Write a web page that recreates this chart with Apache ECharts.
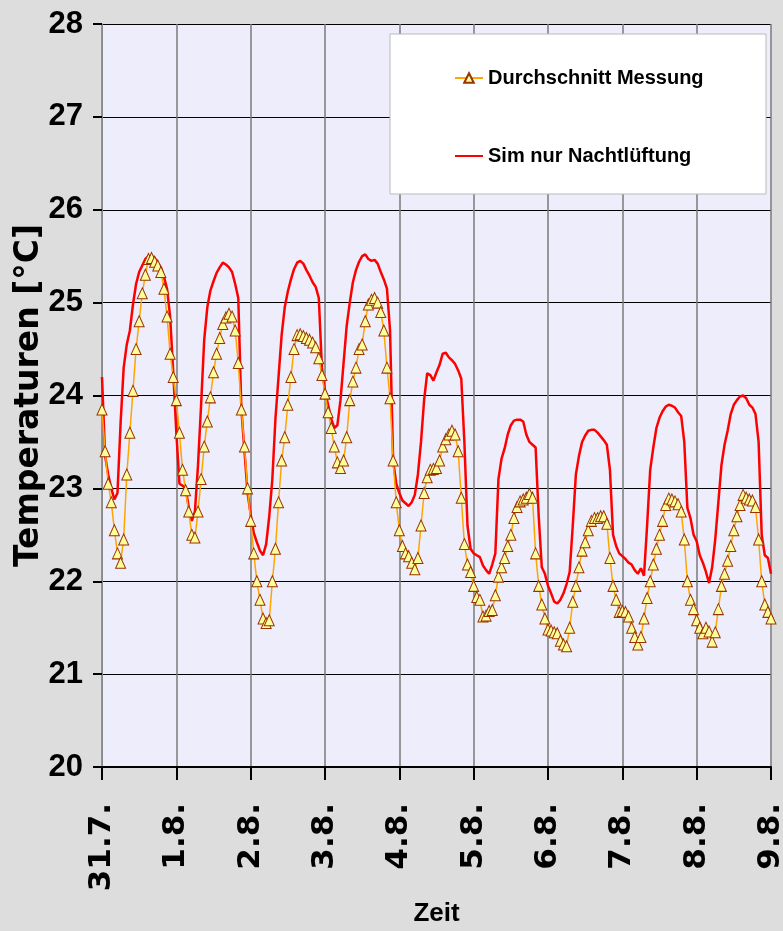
<!DOCTYPE html>
<html>
<head>
<meta charset="utf-8">
<script src="https://cdn.jsdelivr.net/npm/echarts@6/dist/echarts.min.js"></script>
<style>
  html, body { margin: 0; padding: 0; background: #dddddd; }
  #chart { width: 783px; height: 931px; }
</style>
</head>
<body>
<div id="chart"></div>
<script>
// Tageslabels (alle 24 h)
var dayLabels = ['31.7.', '1.8.', '2.8.', '3.8.', '4.8.', '5.8.', '6.8.', '7.8.', '8.8.', '9.8.'];
var yTicks = [20, 21, 22, 23, 24, 25, 26, 27, 28];

// Durchschnitt Messung, stuendlich ab 31.7. 0:00
var messung = [
  23.85, 23.4, 23.05, 22.85, 22.55, 22.3, 22.2, 22.45, 23.15, 23.6, 24.05, 24.5, 24.8, 25.1, 25.3, 25.47, 25.48, 25.44, 25.4, 25.33, 25.15, 24.85, 24.45, 24.2,
  23.95, 23.6, 23.2, 22.98, 22.75, 22.5, 22.47, 22.75, 23.1, 23.45, 23.72, 23.98, 24.25, 24.45, 24.62, 24.77, 24.84, 24.88, 24.85, 24.7, 24.35, 23.85, 23.45, 23.0,
  22.65, 22.3, 22.0, 21.8, 21.6, 21.55, 21.58, 22.0, 22.35, 22.85, 23.3, 23.55, 23.9, 24.2, 24.5, 24.65, 24.66, 24.64, 24.62, 24.6, 24.57, 24.52, 24.4, 24.22,
  24.02, 23.82, 23.65, 23.45, 23.28, 23.22, 23.3, 23.55, 23.95, 24.15, 24.3, 24.5, 24.55, 24.8, 24.98, 25.03, 25.05, 25.0, 24.9, 24.7, 24.3, 23.97, 23.3, 22.85,
  22.55, 22.38, 22.3, 22.27, 22.2, 22.13, 22.25, 22.6, 22.95, 23.12, 23.2, 23.21, 23.22, 23.3, 23.45, 23.53, 23.58, 23.62, 23.58, 23.4, 22.9, 22.4, 22.18, 22.1,
  21.95, 21.83, 21.8, 21.62, 21.63, 21.68, 21.69, 21.85, 22.05, 22.15, 22.25, 22.38, 22.5, 22.68, 22.8, 22.86, 22.88, 22.9, 22.94, 22.9, 22.3, 21.95, 21.75, 21.6,
  21.48, 21.47, 21.45, 21.44, 21.36, 21.32, 21.3, 21.5, 21.78, 21.95, 22.15, 22.33, 22.42, 22.55, 22.65, 22.68, 22.68, 22.7, 22.7, 22.62, 22.25, 21.95, 21.8, 21.67,
  21.68, 21.67, 21.62, 21.5, 21.4, 21.32, 21.4, 21.6, 21.82, 22.0, 22.18, 22.35, 22.5, 22.65, 22.82, 22.89, 22.88, 22.86, 22.83, 22.75, 22.45, 22.0, 21.8, 21.7,
  21.58, 21.5, 21.44, 21.5, 21.46, 21.35, 21.45, 21.7, 21.95, 22.08, 22.22, 22.38, 22.55, 22.7, 22.82, 22.93, 22.9, 22.88, 22.87, 22.8, 22.45, 22.0, 21.75, 21.67,
  21.6
];

// Sim nur Nachtlueftung, stuendlich
var simNacht = [
  24.2, 23.35, 23.15, 23.0, 22.88, 22.95, 23.7, 24.3, 24.55, 24.7, 24.98, 25.2, 25.33, 25.4, 25.47, 25.5, 25.5, 25.48, 25.43, 25.38, 25.28, 25.15, 24.85, 24.25,
  23.6, 23.05, 23.03, 23.0, 22.8, 22.65, 22.75, 23.25, 23.9, 24.6, 24.95, 25.13, 25.23, 25.32, 25.38, 25.43, 25.41, 25.38, 25.33, 25.2, 25.05, 23.85, 23.4, 22.95,
  22.72, 22.52, 22.42, 22.33, 22.28, 22.4, 22.7, 23.1, 23.75, 24.2, 24.65, 24.95, 25.12, 25.25, 25.36, 25.43, 25.45, 25.42, 25.35, 25.29, 25.22, 25.17, 25.05, 24.3,
  24.05, 23.9, 23.75, 23.65, 23.68, 23.95, 24.35, 24.75, 25.0, 25.22, 25.35, 25.44, 25.5, 25.52, 25.47, 25.45, 25.46, 25.42, 25.33, 25.25, 25.15, 24.7, 23.3, 23.05,
  22.95, 22.87, 22.84, 22.81, 22.85, 22.93, 23.15, 23.5, 23.95, 24.24, 24.22, 24.16, 24.25, 24.33, 24.45, 24.46, 24.41, 24.38, 24.34, 24.27, 24.18, 23.5, 22.6, 22.35,
  22.3, 22.28, 22.26, 22.17, 22.12, 22.08, 22.18, 22.3, 23.1, 23.32, 23.43, 23.58, 23.68, 23.73, 23.74, 23.74, 23.72, 23.58, 23.5, 23.47, 23.44, 22.7, 22.15, 22.08,
  21.95, 21.87, 21.78, 21.76, 21.8, 21.87, 21.97, 22.1, 22.6, 23.15, 23.35, 23.5, 23.57, 23.62, 23.63, 23.63, 23.6, 23.56, 23.52, 23.47, 23.2, 22.5, 22.38, 22.3,
  22.27, 22.24, 22.2, 22.18, 22.12, 22.08, 22.14, 22.06, 22.6, 23.2, 23.44, 23.65, 23.76, 23.83, 23.88, 23.9, 23.89, 23.87, 23.82, 23.78, 23.5, 22.79, 22.68, 22.5,
  22.43, 22.28, 22.2, 22.1, 21.98, 22.15, 22.45, 22.85, 23.25, 23.47, 23.62, 23.8, 23.9, 23.95, 23.99, 24.0, 23.97, 23.9, 23.87, 23.8, 23.5, 22.5, 22.28, 22.25,
  22.08
];

var chart = echarts.init(document.getElementById('chart'));

function toPoints(arr) {
  return arr.map(function (v, i) { return [i, v]; });
}

var narrowBold = 'Liberation Sans Narrow, Liberation Sans, Arial, sans-serif';

var option = {
  backgroundColor: '#dddddd',
  animation: false,
  grid: {
    left: 102, right: 12, top: 24, bottom: 164,
    outerBoundsMode: 'none',
    containLabel: false,
    show: true, backgroundColor: '#ededfb', borderWidth: 0
  },
  graphic: [{
    type: 'rect', z: 3,
    shape: { x: 390, y: 34, width: 376, height: 160 },
    style: { fill: '#ffffff', stroke: '#bbbbbb', lineWidth: 1 }
  }],
  legend: {
    z: 5,
    orient: 'vertical',
    left: 449, top: 63,
    itemGap: 58,
    itemWidth: 28, itemHeight: 12,
    data: [
      { name: 'Durchschnitt Messung' },
      { name: 'Sim nur Nachtlüftung', itemStyle: { color: 'rgba(0,0,0,0)', borderWidth: 0 } }
    ],
    textStyle: { fontFamily: narrowBold, fontWeight: 'bold', fontSize: 20, color: '#000' }
  },
  xAxis: {
    type: 'value', min: 0, max: 216, interval: 24,
    name: 'Zeit', nameLocation: 'middle', nameGap: 134,
    nameMoveOverlap: false,
    nameTextStyle: { fontFamily: narrowBold, fontWeight: 'bold', fontSize: 26, color: '#000' },
    axisLine: { lineStyle: { color: '#000', width: 2 } },
    axisTick: { show: true, length: 13, lineStyle: { color: '#000', width: 2 } },
    axisLabel: {
      rotate: 90, margin: 36, color: '#000',
      fontFamily: 'DejaVu Sans', fontWeight: 'bold', fontSize: 31,
      formatter: function (v) { return dayLabels[Math.round(v / 24)]; }
    },
    splitLine: { show: true, lineStyle: { color: '#7a7a7a', width: 1.5 } }
  },
  yAxis: {
    type: 'value', min: yTicks[0], max: yTicks[yTicks.length - 1], interval: 1,
    name: 'Temperaturen [°C]', nameLocation: 'middle', nameGap: 56, nameRotate: 90,
    nameMoveOverlap: false,
    nameTextStyle: { fontFamily: 'DejaVu Sans', fontWeight: 'bold', fontSize: 33, color: '#000' },
    axisLine: { show: true, lineStyle: { color: '#888', width: 1 } },
    axisTick: { show: true, length: 9, lineStyle: { color: '#000', width: 2 } },
    axisLabel: {
      margin: 19, color: '#000',
      fontFamily: narrowBold, fontWeight: 'bold', fontSize: 31
    },
    splitLine: { show: true, lineStyle: { color: '#000', width: 1.2 } }
  },
  series: [
    {
      name: 'Sim nur Nachtlüftung',
      type: 'line', z: 2,
      data: toPoints(simNacht),
      symbol: 'none',
      lineStyle: { color: '#ff0000', width: 2.5 },
      itemStyle: { color: '#ff0000' }
    },
    {
      name: 'Durchschnitt Messung',
      type: 'line', z: 3,
      data: toPoints(messung),
      showAllSymbol: true,
      symbol: 'triangle', symbolSize: [10, 11],
      lineStyle: { color: '#ffa500', width: 1.5 },
      itemStyle: { color: '#ffff99', borderColor: '#993300', borderWidth: 1 }
    }
  ]
};

chart.setOption(option);
</script>
</body>
</html>
